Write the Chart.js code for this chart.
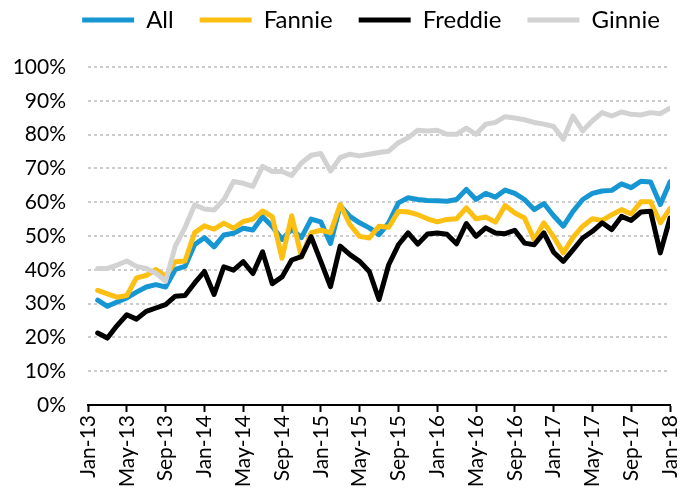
<!DOCTYPE html>
<html>
<head>
<meta charset="utf-8">
<script src="https://cdn.jsdelivr.net/npm/chart.js@4"></script>
<style>
  html, body { margin: 0; padding: 0; background: #fff; }
  #wrap { width: 684px; height: 495px; }
</style>
</head>
<body>
<div id="wrap"><canvas id="canvas"></canvas></div>
<script>
// months plotted, Feb-13 .. Jan-18 (x = months since Jan-13)
var months = [
  'Feb-13','Mar-13','Apr-13','May-13','Jun-13','Jul-13','Aug-13','Sep-13','Oct-13','Nov-13','Dec-13',
  'Jan-14','Feb-14','Mar-14','Apr-14','May-14','Jun-14','Jul-14','Aug-14','Sep-14','Oct-14','Nov-14','Dec-14',
  'Jan-15','Feb-15','Mar-15','Apr-15','May-15','Jun-15','Jul-15','Aug-15','Sep-15','Oct-15','Nov-15','Dec-15',
  'Jan-16','Feb-16','Mar-16','Apr-16','May-16','Jun-16','Jul-16','Aug-16','Sep-16','Oct-16','Nov-16','Dec-16',
  'Jan-17','Feb-17','Mar-17','Apr-17','May-17','Jun-17','Jul-17','Aug-17','Sep-17','Oct-17','Nov-17','Dec-17',
  'Jan-18'
];
var tickLabels = ['Jan-13','May-13','Sep-13','Jan-14','May-14','Sep-14','Jan-15','May-15',
  'Sep-15','Jan-16','May-16','Sep-16','Jan-17','May-17','Sep-17','Jan-18'];

var all = [31, 29.2, 30.5, 31.7, 33.4, 34.9, 35.6, 34.9, 40.1, 41,
  47.5, 49.5, 46.8, 50.3, 50.8, 52.3, 51.8, 55.7, 52.8, 49,
  52, 49.5, 55, 54.2, 47.8, 59, 55.8, 53.9, 52.4, 50.4,
  53.9, 59.8, 61.3, 60.8, 60.5, 60.4, 60.3, 60.8, 63.8, 60.8,
  62.6, 61.5, 63.6, 62.6, 60.8, 57.8, 59.6, 56, 52.9, 57.3,
  60.8, 62.6, 63.3, 63.5, 65.4, 64.3, 66.2, 66, 59.3, 66];
var fannie = [33.9, 32.9, 31.9, 32.4, 37.6, 38.3, 40.1, 38.1, 42.4, 42.6,
  51, 53, 52, 53.8, 52.3, 54.3, 55, 57.4, 55.7, 43.4,
  56, 43.8, 51, 51.7, 51, 59.3, 53.4, 49.9, 49.4, 52.9,
  52.6, 57.3, 57.1, 56.3, 55.1, 54.2, 54.9, 55.1, 58.3, 55.1,
  55.6, 54.1, 59, 56.8, 55.3, 48.9, 53.9, 49.8, 45, 49.6,
  52.9, 55.1, 54.6, 56.3, 57.8, 56.5, 60.1, 60.1, 53.9, 58.1];
var freddie = [21.3, 19.8, 23.5, 26.7, 25.4, 27.7, 28.7, 29.7, 32.2, 32.4,
  36.1, 39.5, 32.7, 40.9, 39.9, 42.4, 38.9, 45.3, 35.9, 37.9,
  42.9, 43.9, 49.8, 42.5, 35, 47, 44.5, 42.5, 39.5, 31.2,
  41.5, 47.4, 50.9, 47.6, 50.6, 50.9, 50.5, 47.7, 53.7, 49.9,
  52.4, 50.9, 50.7, 51.7, 47.9, 47.4, 50.9, 45.2, 42.5, 45.9,
  49.4, 51.4, 53.9, 51.9, 55.8, 54.6, 57.1, 57.3, 45, 55.3];
var ginnie = [40.4, 40.4, 41.4, 42.6, 41, 40.4, 39, 36.6, 47, 52.5,
  59.2, 58, 57.7, 60.7, 66.1, 65.6, 64.7, 70.6, 69.1, 69.1,
  67.9, 71.6, 73.9, 74.4, 69.2, 73.2, 74.2, 73.7, 74.2, 74.7,
  75.1, 77.6, 79.1, 81.3, 81.1, 81.3, 80.1, 80.1, 81.9, 80.1,
  83.1, 83.6, 85.3, 84.9, 84.4, 83.6, 83.1, 82.4, 78.6, 85.5,
  81.1, 84.1, 86.5, 85.5, 86.7, 86, 85.8, 86.5, 86.2, 87.8];

function points(values) {
  return values.map(function(v, i) { return { x: i + 1, y: v }; });
}

function line(label, values, color, order) {
  return {
    label: label,
    data: points(values),
    borderColor: color,
    backgroundColor: color,
    borderWidth: 5,
    borderCapStyle: 'round',
    borderJoinStyle: 'round',
    pointRadius: 0,
    tension: 0,
    order: order
  };
}

// legend: fixed height, shifted so it sits like the original
var legendPlace = {
  id: 'legendPlace',
  beforeInit: function(chart) {
    var fit = chart.legend.fit;
    chart.legend.fit = function() {
      fit.call(this);
      this.height = 67;
    };
  },
  afterLayout: function(chart) {
    chart.legend.top = 8 - 26;
    chart.legend.left += 36;
    chart.legend.right += 36;
  }
};

Chart.defaults.font.family = 'Lato';
Chart.defaults.color = '#000';

var ctx = document.getElementById('canvas').getContext('2d');
new Chart(ctx, {
  type: 'line',
  data: {
    datasets: [
      line('All', all, '#1696d2', 3),
      line('Fannie', fannie, '#fdbf11', 2),
      line('Freddie', freddie, '#000000', 1),
      line('Ginnie', ginnie, '#d2d2d2', 0)
    ]
  },
  options: {
    responsive: true,
    maintainAspectRatio: false,
    animation: false,
    layout: { padding: { left: 0, right: 14, top: 0, bottom: 0 } },
    plugins: {
      tooltip: { enabled: false },
      legend: {
        position: 'top',
        labels: {
          usePointStyle: true,
          pointStyle: 'line',
          pointStyleWidth: 52,
          padding: 26,
          font: { size: 24 },
          sort: function(a, b) { return a.datasetIndex - b.datasetIndex; }
        }
      }
    },
    scales: {
      x: {
        type: 'linear',
        min: 0,
        max: 60,
        grid: { drawOnChartArea: false, tickLength: 7, tickColor: '#000', tickWidth: 2 },
        border: { color: '#000', width: 2 },
        ticks: {
          stepSize: 4,
          autoSkip: false,
          maxRotation: 90,
          minRotation: 90,
          padding: 3,
          font: { size: 21 },
          callback: function(v) { return tickLabels[v / 4]; }
        },
        afterFit: function(scale) {
          scale.height = 90;
          scale.paddingLeft = 0;
          scale.paddingRight = 0;
        }
      },
      y: {
        min: 0,
        max: 100,
        grid: { color: '#cccccc', lineWidth: 2, drawTicks: false },
        border: { display: false, dash: [3, 3] },
        ticks: {
          stepSize: 10,
          padding: 22,
          font: { size: 21 },
          callback: function(v) { return v + '%'; }
        },
        afterFit: function(scale) {
          scale.width = 88;
        }
      }
    }
  },
  plugins: [legendPlace]
});
</script>
</body>
</html>
